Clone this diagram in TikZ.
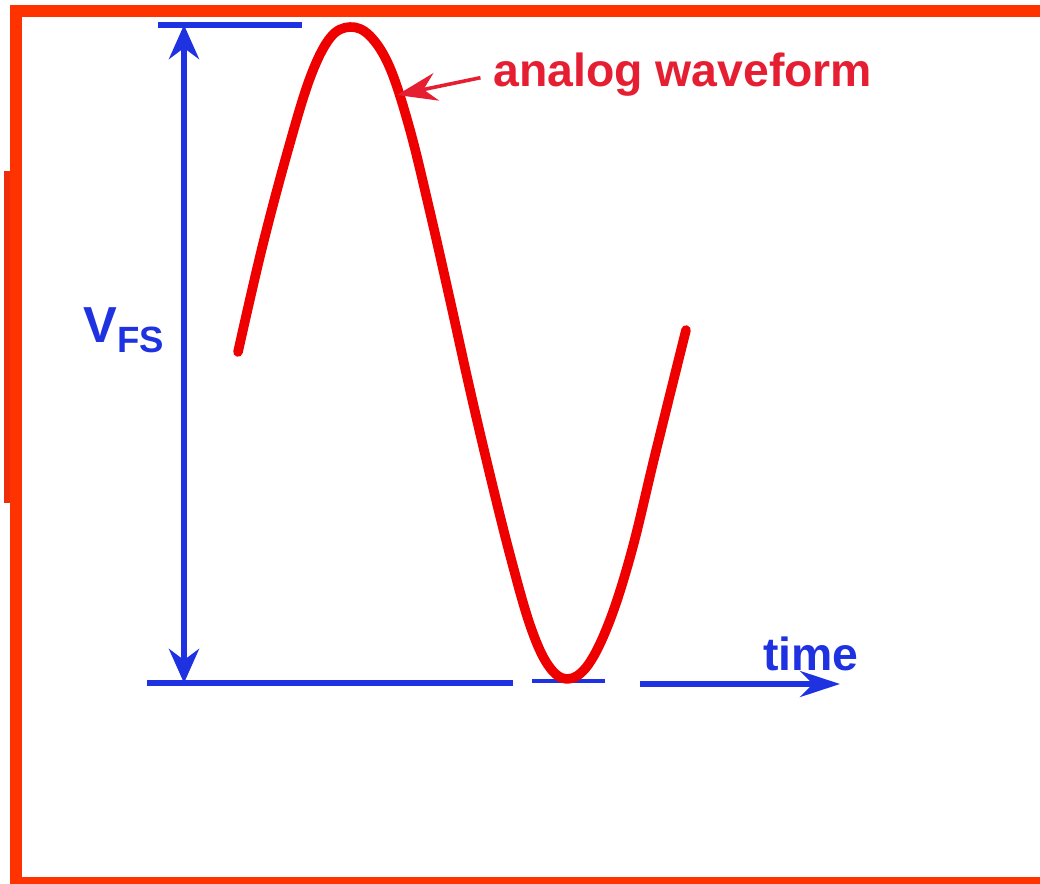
\documentclass[tikz,border=0pt]{standalone}
\usepackage{fontspec}
\setmainfont{Liberation Sans}
\usetikzlibrary{arrows.meta,positioning}
\definecolor{frameRed}{RGB}{255,51,0}
\definecolor{frameDark}{RGB}{240,45,10}
\definecolor{axisBlue}{RGB}{30,50,225}
\definecolor{waveRed}{RGB}{238,0,0}
\definecolor{labelRed}{RGB}{230,30,50}

\begin{document}
\begin{tikzpicture}[x=0.25mm, y=-0.25mm,
    axis/.style={draw=axisBlue, line width=1.4mm},
    dim/.style={{Stealth[length=8.5mm, width=7.5mm]}-{Stealth[length=8.5mm, width=7.5mm]},
                axisBlue, line width=1.4mm},
    arr/.style={-{Stealth[length=10mm, width=6.5mm]}, axisBlue, line width=1.4mm},
    wave/.style={waveRed, line width=2.4mm, line cap=round, line join=round},
    lblarr/.style={-{Stealth[length=10mm, width=7mm]}, labelRed, line width=0.9mm},
    big/.style={inner sep=0pt, font=\fontsize{33}{33}\selectfont\bfseries}
  ]
  \useasboundingbox (0,0) rectangle (1040,884);
  % frame
  \fill[frameRed] (10,5) rectangle (1040,17);
  \fill[frameRed] (10,5) rectangle (22,884);
  \fill[frameRed] (10,877) rectangle (1040,884);
  \fill[frameDark] (4,171) rectangle (10,503);
  % axes
  \coordinate (top) at (184,25);
  \coordinate (bot) at (184,683);
  \coordinate (t0) at (640,684);
  \coordinate (t1) at (840,684);
  \coordinate (tip) at (397,95);
  \draw[axis] (158,25) -- (302,25);
  \draw[axis] (147,683) -- (513,683);
  \draw[axisBlue, line width=0.9mm] (532,681) -- (605,681);
  \draw[dim] (top) -- (bot);
  \draw[arr] (t0) -- (t1);
  % waveform
  \draw[wave] plot[smooth, tension=0.6] coordinates {
    (238,352) (262,248) (288,150) (310,78) (330,38) (350,27) (370,36)
    (390,68) (410,130) (430,212) (450,300) (470,390) (490,475) (510,555)
    (530,625) (548,665) (567,679) (588,665) (610,620) (632,550) (655,455)
    (686,330)};
  % labels
  \node[big, anchor=base west, text=labelRed] (lbl) at (493,87) {analog waveform};
  \node[big, anchor=base west, text=axisBlue] (time) at (763,670) {time};
  \node[inner sep=0pt, anchor=base west, text=axisBlue, font=\bfseries] (vfs) at (83,342)
    {\fontsize{36}{36}\selectfont V\fontsize{26}{26}\selectfont\raisebox{-2.5mm}{FS}};
  \draw[lblarr, shorten <=3.2mm] (lbl.west) -- (tip);
\end{tikzpicture}
\end{document}
